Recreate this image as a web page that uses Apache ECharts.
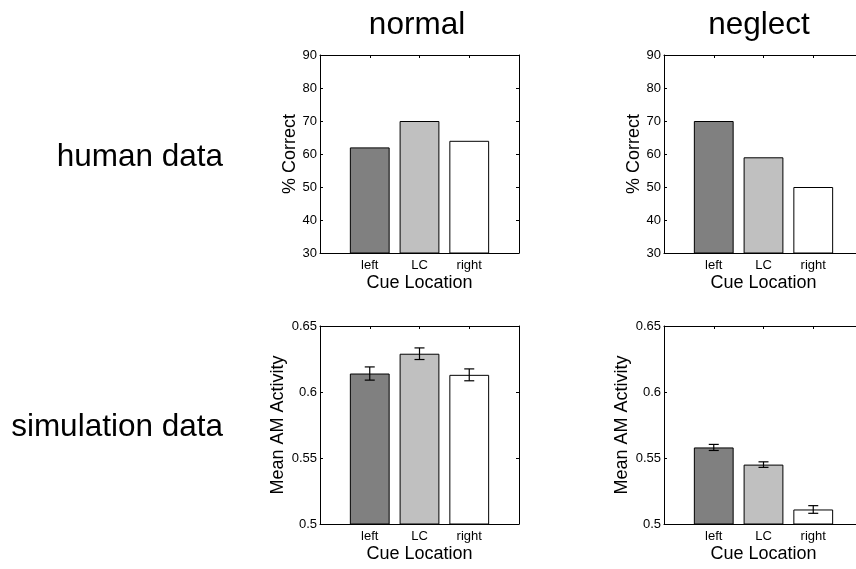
<!DOCTYPE html>
<html lang="en">

<head>
    <meta charset="UTF-8">
    <title>normal vs neglect</title>
    <style>
        body { margin: 0; background: #fff; }
    </style>
</head>

<body>
    <div id="main" style="width: 856px; height: 569px;"></div>

    <script src="https://cdn.jsdelivr.net/npm/echarts@6/dist/echarts.min.js"></script>
    <script>
        // data
        const cueLabels = ['left', 'LC', 'right'];
        const barColors = ['#808080', '#c0c0c0', '#ffffff'];

        const humanNormal = [62, 70, 64];
        const humanNeglect = [70, 59, 50];

        const simNormal = [0.614, 0.629, 0.613];
        const simNormalErr = [0.005, 0.0044, 0.0045];
        const simNeglect = [0.558, 0.545, 0.511];
        const simNeglectErr = [0.0023, 0.0021, 0.0029];

        const humanRange = [30, 90, 10];      // min, max, step
        const simRange = [0.5, 0.65, 0.05];

        const FONT = 'Liberation Sans, Arial, sans-serif';

        // MATLAB puts the bars at x = 1..3 with xlim [0 4]
        const xCats = [''].concat(cueLabels, ['']);

        const panels = [
            { left: 320, top: 55, values: humanNormal, range: humanRange, yName: '% Correct', nameGap: 21 },
            { left: 664, top: 55, values: humanNeglect, range: humanRange, yName: '% Correct', nameGap: 21 },
            { left: 320, top: 326, values: simNormal, err: simNormalErr, range: simRange, yName: 'Mean AM Activity', nameGap: 33 },
            { left: 664, top: 326, values: simNeglect, err: simNeglectErr, range: simRange, yName: 'Mean AM Activity', nameGap: 33 },
        ];

        let grid = [], xAxis = [], yAxis = [], series = [];

        panels.forEach(function (p, i) {
            // the right column runs off the edge of the picture, so no fitting
            grid.push({ left: p.left, top: p.top, width: 199, height: 198, outerBoundsMode: 'none', containLabel: false });

            // bottom axis with labels
            xAxis.push({
                type: 'category', gridIndex: i, data: xCats, boundaryGap: false, position: 'bottom',
                name: 'Cue Location', nameLocation: 'middle', nameGap: 21,
                nameTextStyle: { fontFamily: FONT, fontSize: 18, color: '#000' },
                axisLine: { lineStyle: { color: '#000', width: 1 } },
                axisTick: { show: false },
                axisLabel: { interval: 0, margin: 6, fontFamily: FONT, fontSize: 13, color: '#000' },
                splitLine: { show: false }
            });
            // top frame line with inward ticks
            xAxis.push({
                type: 'category', gridIndex: i, data: xCats, boundaryGap: false, position: 'top',
                axisLine: { lineStyle: { color: '#000', width: 1 } },
                axisTick: { show: true, inside: true, length: 3, interval: 0, lineStyle: { color: '#000' } },
                axisLabel: { show: false },
                splitLine: { show: false }
            });

            let yCommon = {
                type: 'value', gridIndex: i,
                min: p.range[0], max: p.range[1], interval: p.range[2],
                splitLine: { show: false },
                axisLine: { show: true, lineStyle: { color: '#000', width: 1 } },
                axisTick: { show: true, inside: true, length: 3, lineStyle: { color: '#000' } }
            };
            yAxis.push(Object.assign({}, yCommon, {
                position: 'left',
                name: p.yName, nameLocation: 'middle', nameGap: p.nameGap,
                nameTextStyle: { fontFamily: FONT, fontSize: 18, color: '#000' },
                axisLabel: { margin: 3, fontFamily: FONT, fontSize: 13, color: '#000' }
            }));
            yAxis.push(Object.assign({}, yCommon, {
                position: 'right',
                axisLabel: { show: false }
            }));

            let barData = ['-'];
            p.values.forEach(function (v, k) {
                barData.push({ value: v, itemStyle: { color: barColors[k] } });
            });
            barData.push('-');

            series.push({
                type: 'bar',
                xAxisIndex: i * 2, yAxisIndex: i * 2,
                data: barData,
                barWidth: '80%',
                itemStyle: { borderColor: '#000', borderWidth: 1 },
                silent: true,
                animation: false
            });

            if (p.err) {
                let errData = p.values.map(function (v, k) { return [k + 1, v - p.err[k], v + p.err[k]]; });
                series.push({
                    type: 'custom',
                    xAxisIndex: i * 2, yAxisIndex: i * 2,
                    data: errData,
                    z: 5,
                    silent: true,
                    animation: false,
                    renderItem: function (params, api) {
                        let lo = api.coord([api.value(0), api.value(1)]);
                        let hi = api.coord([api.value(0), api.value(2)]);
                        let w = 5;
                        let style = { stroke: '#000', lineWidth: 1.2 };
                        return {
                            type: 'group',
                            children: [
                                { type: 'line', shape: { x1: lo[0], y1: lo[1], x2: hi[0], y2: hi[1] }, style: style },
                                { type: 'line', shape: { x1: lo[0] - w, y1: lo[1], x2: lo[0] + w, y2: lo[1] }, style: style },
                                { type: 'line', shape: { x1: hi[0] - w, y1: hi[1], x2: hi[0] + w, y2: hi[1] }, style: style }
                            ]
                        };
                    }
                });
            }
        });

        let titleStyle = { fontFamily: FONT, fontSize: 31.5, fontWeight: 'normal', color: '#000' };

        let chart = echarts.init(document.getElementById('main'));
        chart.setOption({
            backgroundColor: '#fff',
            animation: false,
            title: [
                { text: 'normal', left: 417, top: 9, padding: 0, textAlign: 'center', textStyle: titleStyle },
                { text: 'neglect', left: 759, top: 9, padding: 0, textAlign: 'center', textStyle: titleStyle },
                { text: 'human data', right: 633, top: 141, padding: 0, textStyle: titleStyle },
                { text: 'simulation data', right: 633, top: 411, padding: 0, textStyle: titleStyle }
            ],
            grid: grid,
            xAxis: xAxis,
            yAxis: yAxis,
            series: series
        });
    </script>
</body>

</html>
